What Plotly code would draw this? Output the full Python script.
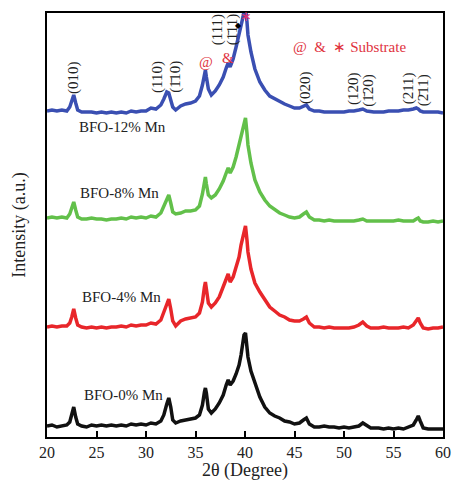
import plotly.graph_objects as go

two_theta = [20.0, 20.5, 21.0, 21.5, 22.0, 22.3, 22.5, 22.7, 22.9, 23.1,
             23.5, 24.0, 24.5, 25.0, 25.5, 26.0, 26.5, 27.0, 27.5, 28.0,
             28.5, 29.0, 29.5, 30.0, 30.5, 31.0, 31.5, 31.8, 32.1, 32.3,
             32.5, 32.7, 33.0, 33.5, 34.0, 34.5, 35.0, 35.4, 35.7, 35.9,
             36.0, 36.1, 36.3, 36.6, 37.0, 37.4, 37.8, 38.1, 38.3, 38.5,
             38.8, 39.1, 39.4, 39.6, 39.8, 39.9, 40.05, 40.2, 40.3, 40.6,
             41.0, 41.5, 42.0, 42.5, 43.0, 43.5, 44.0, 44.5, 45.0, 45.5,
             45.9, 46.2, 46.5, 47.0, 47.5, 48.0, 48.5, 49.0, 49.5, 50.0,
             50.5, 51.0, 51.5, 51.9, 52.3, 52.7, 53.0, 53.5, 54.0, 54.5,
             55.0, 55.5, 56.0, 56.5, 57.0, 57.3, 57.5, 57.7, 58.0, 58.5,
             59.0, 59.5, 60.0]

bfo_0 = [11, 12, 10, 11, 12, 15, 22, 30, 20, 13,
         11, 10, 12, 11, 12, 11, 12, 11, 12, 11,
         13, 12, 13, 12, 14, 13, 16, 22, 33, 39,
         30, 17, 14, 16, 17, 18, 19, 22, 32, 45,
         49, 44, 28, 24, 28, 34, 42, 52, 57, 52,
         56, 63, 72, 82, 95, 102, 104, 92, 80, 66,
         54, 40, 30, 24, 21, 19, 16, 15, 13, 14,
         17, 19, 13, 10, 10, 11, 10, 10, 9, 10,
         9, 10, 11, 14, 11, 9, 9, 9, 8, 9,
         8, 9, 8, 10, 12, 17, 21, 16, 9, 8,
         8, 8, 8]

bfo_4 = [110, 111, 110, 111, 111, 114, 120, 128, 119, 112,
         110, 109, 110, 109, 110, 109, 110, 110, 111, 110,
         112, 111, 112, 112, 114, 113, 117, 125, 134, 138,
         128, 116, 111, 116, 118, 119, 120, 124, 135, 150,
         155, 148, 134, 130, 134, 140, 150, 158, 163, 155,
         160, 170, 180, 192, 200, 205, 211, 197, 185, 168,
         154, 145, 137, 130, 126, 122, 120, 117, 116, 116,
         118, 120, 114, 110, 110, 109, 110, 109, 109, 109,
         109, 110, 112, 115, 111, 109, 109, 109, 110, 109,
         109, 109, 110, 109, 112, 116, 119, 114, 109, 108,
         109, 109, 110]

bfo_8 = [219, 220, 219, 220, 219, 223, 229, 235, 227, 220,
         218, 218, 219, 218, 218, 217, 218, 218, 219, 218,
         220, 219, 220, 219, 221, 220, 224, 231, 239, 242,
         234, 225, 223, 224, 226, 226, 227, 231, 243, 256,
         260, 253, 242, 239, 242, 248, 256, 264, 269, 264,
         270, 280, 292, 300, 310, 315, 319, 304, 292, 274,
         257, 245, 237, 231, 227, 224, 222, 220, 219, 220,
         223, 225, 220, 217, 217, 216, 217, 216, 216, 216,
         216, 216, 217, 218, 216, 216, 216, 216, 216, 216,
         216, 217, 216, 216, 216, 218, 219, 216, 215, 215,
         216, 215, 216]

bfo_12 = [326, 327, 326, 327, 326, 330, 336, 342, 334, 327,
          325, 325, 325, 324, 325, 324, 325, 324, 325, 324,
          326, 325, 326, 326, 329, 328, 332, 338, 345, 344,
          337, 330, 327, 331, 333, 334, 336, 341, 352, 363,
          367, 360, 348, 342, 346, 352, 360, 369, 374, 370,
          378, 390, 402, 412, 420, 426, 430, 415, 402, 385,
          368, 355, 347, 341, 338, 336, 333, 331, 329, 329,
          331, 332, 328, 326, 326, 325, 325, 325, 325, 325,
          326, 326, 327, 328, 326, 325, 325, 325, 325, 326,
          326, 326, 327, 327, 328, 329, 328, 326, 325, 325,
          325, 325, 324]

series_names = ["BFO-0% Mn", "BFO-4% Mn", "BFO-8% Mn", "BFO-12% Mn"]
series_values = [bfo_0, bfo_4, bfo_8, bfo_12]
series_colors = ["#111111", "#e8262a", "#62c04a", "#3a4fb2"]
label_pos = [(23.5, 42), (23.3, 140), (23.1, 244), (23.0, 310)]

miller_labels = ["(010)", "(110)", "(1\u030410)", "(111)", "(1\u030411)",
                 "(020)", "(120)", "(1\u030420)", "(211)", "(2\u030411)"]
miller_x = [22.63, 31.1, 32.9, 37.2, 38.7, 46.06, 50.9, 52.4, 56.5, 58.0]
miller_y = [359, 360, 360, 407, 407, 350, 349, 347, 349, 347]

serif = "Liberation Serif, Times New Roman, serif"

fig = go.Figure()
for name, vals, col in zip(series_names, series_values, series_colors):
    fig.add_trace(go.Scatter(x=two_theta, y=vals, mode="lines", name=name,
                             line=dict(color=col, width=3.5), showlegend=False))

ann = []
for name, (lx, ly) in zip(series_names, label_pos):
    ann.append(dict(x=lx, y=ly, text=name, showarrow=False, xanchor="left",
                    yanchor="middle", font=dict(family=serif, size=15, color="#222")))
for t, mx, my in zip(miller_labels, miller_x, miller_y):
    ann.append(dict(x=mx, y=my, text=t, showarrow=False, textangle=-90,
                    font=dict(family=serif, size=15, color="#222")))
red = "#e0323e"
ann.append(dict(x=36.06, y=375, text="@", showarrow=False,
                font=dict(family=serif, size=15, color=red)))
ann.append(dict(x=38.3, y=379, text="&", showarrow=False,
                font=dict(family=serif, size=15, color=red)))
ann.append(dict(x=40.1, y=421, text="\u2217", showarrow=False,
                font=dict(family=serif, size=14, color="#e03070")))
ann.append(dict(x=39.3, y=412, text="\u25c6", showarrow=False,
                font=dict(family=serif, size=8, color="#000")))
ann.append(dict(x=50.6, y=390, text="@  &  \u2217 Substrate", showarrow=False,
                font=dict(family=serif, size=15, color=red)))
# x-axis title
ann.append(dict(x=0.5, y=0, xref="paper", yref="paper", xanchor="center",
                yanchor="top", yshift=-21, text="2\u03b8 (Degree)", showarrow=False,
                font=dict(family=serif, size=18, color="#222")))

fig.update_layout(
    width=452, height=482,
    margin=dict(l=47, r=9, t=13, b=45, autoexpand=False),
    plot_bgcolor="white", paper_bgcolor="white",
    annotations=ann,
    xaxis=dict(range=[20, 60], dtick=5, ticks="inside", ticklen=6, tickwidth=1.5,
               tickcolor="#000", showline=True, linecolor="#000", linewidth=1.5,
               mirror=True, showgrid=False, zeroline=False, automargin=False,
               tickfont=dict(family=serif, size=16, color="#222")),
    yaxis=dict(range=[0, 424], showticklabels=False, ticks="", showline=True,
               linecolor="#000", linewidth=1.5, mirror=True, showgrid=False,
               zeroline=False, automargin=False,
               title=dict(text="Intensity (a.u.)", standoff=15,
                          font=dict(family=serif, size=18, color="#222"))),
)

fig.write_html("out.html")
